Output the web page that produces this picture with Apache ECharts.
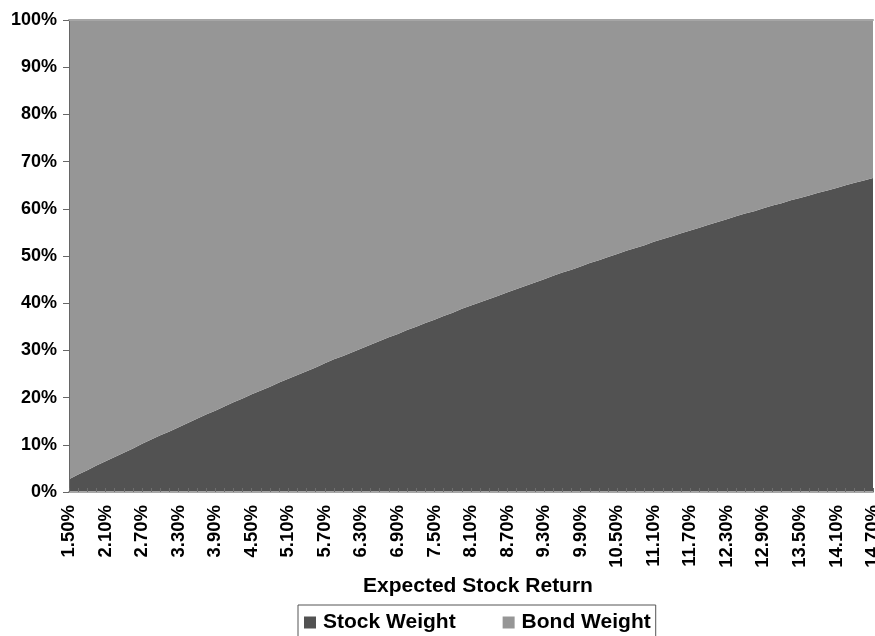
<!DOCTYPE html>
<html>
<head>
<meta charset="utf-8">
<title>Stock / Bond Weight</title>
<script src="https://cdn.jsdelivr.net/npm/echarts@6/dist/echarts.min.js"></script>
<style>
  html, body { margin: 0; padding: 0; background: #ffffff; }
  #chart { width: 875px; height: 636px; }
</style>
</head>
<body>
<div id="chart"></div>
<script>
// Expected stock return, in 0.15% steps
const returns = [
  '1.50%','1.65%','1.80%','1.95%','2.10%','2.25%','2.40%','2.55%','2.70%','2.85%',
  '3.00%','3.15%','3.30%','3.45%','3.60%','3.75%','3.90%','4.05%','4.20%','4.35%',
  '4.50%','4.65%','4.80%','4.95%','5.10%','5.25%','5.40%','5.55%','5.70%','5.85%',
  '6.00%','6.15%','6.30%','6.45%','6.60%','6.75%','6.90%','7.05%','7.20%','7.35%',
  '7.50%','7.65%','7.80%','7.95%','8.10%','8.25%','8.40%','8.55%','8.70%','8.85%',
  '9.00%','9.15%','9.30%','9.45%','9.60%','9.75%','9.90%','10.05%','10.20%','10.35%',
  '10.50%','10.65%','10.80%','10.95%','11.10%','11.25%','11.40%','11.55%','11.70%','11.85%',
  '12.00%','12.15%','12.30%','12.45%','12.60%','12.75%','12.90%','13.05%','13.20%','13.35%',
  '13.50%','13.65%','13.80%','13.95%','14.10%','14.25%','14.40%','14.55%','14.70%'
];

// Portfolio weight in stocks (%)
const stockWeight = [
  2.7, 3.7, 4.6, 5.6, 6.5, 7.4, 8.3, 9.2, 10.2, 11.1,
  12.0, 12.8, 13.7, 14.6, 15.5, 16.4, 17.2, 18.1, 19.0, 19.8,
  20.7, 21.5, 22.3, 23.2, 24.0, 24.8, 25.6, 26.4, 27.3, 28.1,
  28.8, 29.6, 30.4, 31.2, 32.0, 32.8, 33.5, 34.3, 35.0, 35.8,
  36.5, 37.3, 38.0, 38.8, 39.5, 40.2, 40.9, 41.6, 42.3, 43.0,
  43.7, 44.4, 45.1, 45.8, 46.5, 47.1, 47.8, 48.5, 49.1, 49.8,
  50.4, 51.1, 51.7, 52.3, 53.0, 53.6, 54.2, 54.8, 55.4, 56.0,
  56.6, 57.2, 57.8, 58.4, 59.0, 59.5, 60.1, 60.7, 61.2, 61.8,
  62.3, 62.8, 63.4, 63.9, 64.4, 65.0, 65.5, 66.0, 66.5
];

// Portfolio weight in bonds (%)
const bondWeight = [
  97.3, 96.3, 95.4, 94.4, 93.5, 92.6, 91.7, 90.8, 89.8, 88.9,
  88.0, 87.2, 86.3, 85.4, 84.5, 83.6, 82.8, 81.9, 81.0, 80.2,
  79.3, 78.5, 77.7, 76.8, 76.0, 75.2, 74.4, 73.6, 72.7, 71.9,
  71.2, 70.4, 69.6, 68.8, 68.0, 67.2, 66.5, 65.7, 65.0, 64.2,
  63.5, 62.7, 62.0, 61.2, 60.5, 59.8, 59.1, 58.4, 57.7, 57.0,
  56.3, 55.6, 54.9, 54.2, 53.5, 52.9, 52.2, 51.5, 50.9, 50.2,
  49.6, 48.9, 48.3, 47.7, 47.0, 46.4, 45.8, 45.2, 44.6, 44.0,
  43.4, 42.8, 42.2, 41.6, 41.0, 40.5, 39.9, 39.3, 38.8, 38.2,
  37.7, 37.2, 36.6, 36.1, 35.6, 35.0, 34.5, 34.0, 33.5
];

const yTicks = { min: 0, max: 100, interval: 10 };

const FONT = '"Liberation Sans", Arial, sans-serif';
const STOCK_COLOR = '#525252';
const BOND_COLOR = '#969696';

const chart = echarts.init(document.getElementById('chart'), null, { renderer: 'canvas' });

chart.setOption({
  animation: false,
  backgroundColor: '#ffffff',
  textStyle: { fontFamily: FONT },
  grid: { left: 69, right: 2, top: 20, bottom: 144, containLabel: false, outerBoundsMode: 'none' },
  legend: {
    data: ['Stock Weight', 'Bond Weight'],
    left: 298,
    top: 605,
    orient: 'horizontal',
    icon: 'rect',
    itemWidth: 12,
    itemHeight: 12,
    itemGap: 47,
    padding: [7, 5, 8, 6],
    borderColor: '#555555',
    borderWidth: 1,
    textStyle: { fontFamily: FONT, fontSize: 21, fontWeight: 'bold', color: '#000', padding: [0, 0, 0, 2] }
  },
  xAxis: [
    {
      type: 'category',
      data: returns,
      boundaryGap: false,
      position: 'bottom',
      z: 5,
      name: 'Expected Stock Return',
      nameLocation: 'middle',
      nameGap: 82,
      nameTextStyle: { fontFamily: FONT, fontSize: 21, fontWeight: 'bold', color: '#000', padding: [0, 0, 0, 14] },
      axisLine: { show: true, lineStyle: { color: '#a6a6a6', width: 2 } },
      axisTick: { show: true, inside: true, interval: 0, length: 4, lineStyle: { color: '#6e6e6e', width: 1 } },
      axisLabel: {
        interval: 3,
        rotate: 90,
        margin: 13,
        fontFamily: FONT,
        fontSize: 18.5,
        fontWeight: 'bold',
        color: '#000'
      },
      splitLine: { show: false }
    },
    {
      type: 'category',
      data: returns,
      boundaryGap: false,
      position: 'top',
      z: 5,
      axisLine: { show: true, lineStyle: { color: '#a6a6a6', width: 2 } },
      axisTick: { show: false },
      axisLabel: { show: false },
      splitLine: { show: false }
    }
  ],
  yAxis: {
    type: 'value',
    min: yTicks.min,
    max: yTicks.max,
    interval: yTicks.interval,
    z: 5,
    axisLine: { show: true, lineStyle: { color: '#666666', width: 1 } },
    axisTick: { show: true, inside: false, length: 6, lineStyle: { color: '#666666' } },
    axisLabel: {
      formatter: '{value}%',
      margin: 12,
      fontFamily: FONT,
      fontSize: 18,
      fontWeight: 'bold',
      color: '#000'
    },
    splitLine: { show: false }
  },
  series: [
    {
      name: 'Stock Weight',
      type: 'line',
      stack: 'weights',
      data: stockWeight,
      symbol: 'none',
      lineStyle: { width: 0 },
      itemStyle: { color: STOCK_COLOR },
      areaStyle: { color: STOCK_COLOR, opacity: 1 }
    },
    {
      name: 'Bond Weight',
      type: 'line',
      stack: 'weights',
      data: bondWeight,
      symbol: 'none',
      lineStyle: { width: 0 },
      itemStyle: { color: BOND_COLOR },
      areaStyle: { color: BOND_COLOR, opacity: 1 }
    }
  ]
});
</script>
</body>
</html>
